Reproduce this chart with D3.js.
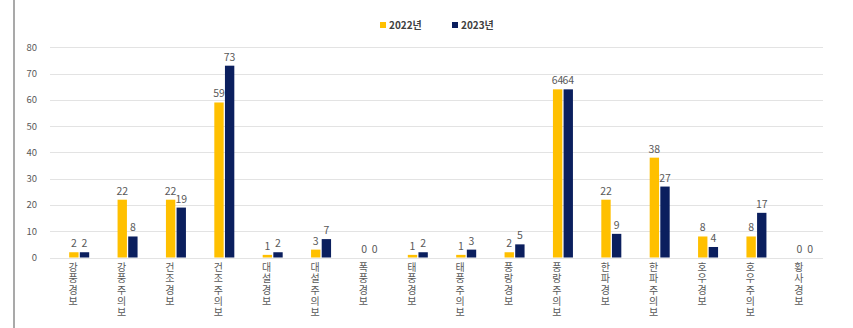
<!DOCTYPE html>
<html><head><meta charset="utf-8">
<script src="https://cdn.jsdelivr.net/npm/d3@7"></script>
<style>
html,body{margin:0;padding:0;background:#fff;}
svg{display:block;font-family:"Noto Sans CJK KR","Noto Sans",sans-serif;}
.vlab{writing-mode:vertical-rl;text-orientation:upright;}
</style></head>
<body><svg id="c" width="853" height="328"></svg>
<script>
const categories = ["강풍경보","강풍주의보","건조경보","건조주의보","대설경보","대설주의보","폭풍경보","태풍경보","태풍주의보","풍랑경보","풍랑주의보","한파경보","한파주의보","호우경보","호우주의보","황사경보"];
const series = ["2022년","2023년"];
const values2022 = [2,22,22,59,1,3,0,1,1,2,64,22,38,8,8,0];
const values2023 = [2,8,19,73,2,7,0,2,3,5,64,9,27,4,17,0];
const yTicks = [0,10,20,30,40,50,60,70,80];
const colors = ["#FFC000","#0B1F5E"];

const svg = d3.select("#c");
const x0 = d3.scaleBand().domain(categories).range([55, 829]);
const x1 = d3.scaleBand().domain(series).range([0, 20]).paddingInner(0.12);
const y = d3.scaleLinear().domain([0, 80]).range([257.5, 47.3]);

// left frame line
svg.append("line").attr("x1",14).attr("x2",14).attr("y1",0).attr("y2",328)
  .attr("stroke","#8c8c8c").attr("stroke-width",1.5);

// gridlines
svg.append("g").selectAll("line").data(yTicks).join("line")
  .attr("x1",50).attr("x2",823)
  .attr("y1",d=>Math.round(y(d))+0.5).attr("y2",d=>Math.round(y(d))+0.5)
  .attr("stroke","#e3e3e3").attr("stroke-width",1);

// y tick labels
svg.append("g").selectAll("text").data(yTicks).join("text")
  .attr("x",37).attr("y",d=>y(d)+3.5).attr("text-anchor","end")
  .attr("font-size",9.5).attr("fill","#595959").text(d=>d);

// bars
const data = categories.map((c,i)=>({c, vals:[values2022[i], values2023[i]]}));
const groups = svg.append("g").selectAll("g").data(data).join("g")
  .attr("transform",d=>`translate(${x0(d.c)+x0.bandwidth()/2-10},0)`);
groups.selectAll("rect").data(d=>d.vals.map((v,j)=>({v,s:series[j],j}))).join("rect")
  .attr("x",d=>x1(d.s)).attr("width",x1.bandwidth())
  .attr("y",d=>y(d.v)).attr("height",d=>y(0)-y(d.v))
  .attr("fill",d=>colors[d.j]);
groups.selectAll("text").data(d=>d.vals.map((v,j)=>({v,s:series[j],j}))).join("text")
  .attr("x",d=>x1(d.s)+x1.bandwidth()/2).attr("y",d=>y(d.v)-5)
  .attr("text-anchor","middle").attr("font-size",10.5).attr("fill","#595959")
  .text(d=>d.v);

// category labels (vertical, upright characters)
svg.append("g").selectAll("text").data(categories).join("text")
  .attr("class","vlab")
  .attr("x",d=>x0(d)+x0.bandwidth()/2-6).attr("y",262)
  .attr("font-size",10).attr("letter-spacing",1.4).attr("fill","#595959")
  .text(d=>d);

// legend
const leg = svg.append("g");
const legX = [380, 452];
series.forEach((s,i)=>{
  leg.append("rect").attr("x",legX[i]).attr("y",22).attr("width",6).attr("height",6).attr("fill",colors[i]);
  leg.append("text").attr("x",legX[i]+9).attr("y",28.5).attr("font-size",10).attr("font-weight","bold")
    .attr("fill","#404040").text(s);
});
</script></body></html>
